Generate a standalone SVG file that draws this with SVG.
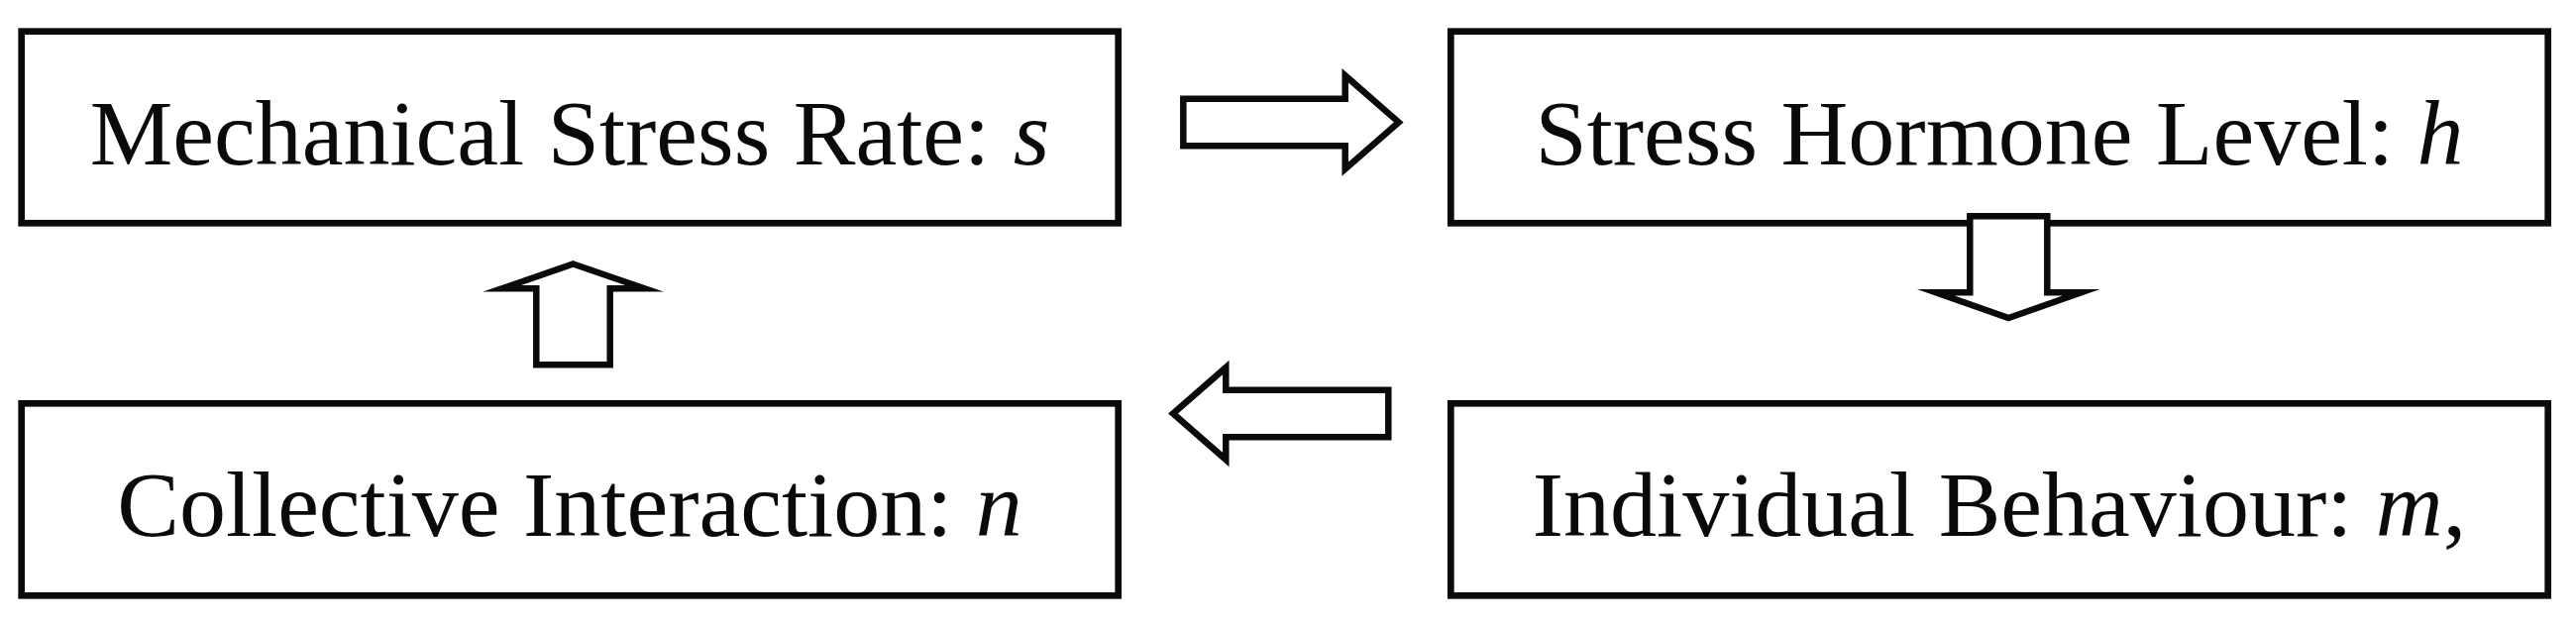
<svg xmlns="http://www.w3.org/2000/svg" width="2600" height="633" viewBox="0 0 2600 633">
<style>
.box{fill:#ffffff;stroke:#0a0a0a;stroke-width:6.7}
.lbl{font-family:"Liberation Serif","Times New Roman",serif;font-size:94px;fill:#0a0a0a;text-anchor:middle}
.var{font-style:italic}
.arrow{fill:#ffffff;stroke:#0a0a0a;stroke-width:6.5;stroke-linejoin:miter;stroke-miterlimit:10}
</style>
<rect width="2600" height="633" fill="#ffffff"/>
<g id="node-mechanical-stress">
<rect class="box" x="21.7" y="31.7" width="1107" height="193.6"/>
<text class="lbl" x="575" y="165.7">Mechanical Stress Rate: <tspan class="var">s</tspan></text>
</g>
<g id="node-stress-hormone">
<rect class="box" x="1464.3" y="31.7" width="1107.4" height="193.6"/>
<text class="lbl" x="2018" y="165.7">Stress Hormone Level: <tspan class="var">h</tspan></text>
</g>
<g id="node-collective-interaction">
<rect class="box" x="21.7" y="407.3" width="1107" height="194"/>
<text class="lbl" x="575" y="541.3">Collective Interaction: <tspan class="var">n</tspan></text>
</g>
<g id="node-individual-behaviour">
<rect class="box" x="1464.3" y="407.3" width="1107.4" height="194"/>
<text class="lbl" x="2018" y="541.3">Individual Behaviour: <tspan class="var">m</tspan>,</text>
</g>
<g id="connectors">
<polygon class="arrow" points="1194.3,99.7 1357.7,99.7 1357.7,76.2 1411.7,123.4 1357.7,170.6 1357.7,147.2 1194.3,147.2"/>
<polygon class="arrow" points="1988.3,218.3 2066.3,218.3 2066.3,295.3 2100.5,295.3 2027.3,321 1954,295.3 1988.3,295.3"/>
<polygon class="arrow" points="1401.3,393.7 1237.3,393.7 1237.3,371 1184,417.5 1237.3,464 1237.3,441.3 1401.3,441.3"/>
<polygon class="arrow" points="578.5,266.5 650.4,291.3 615.7,291.3 615.7,368.3 541.3,368.3 541.3,291.3 506.6,291.3"/>
</g>
</svg>
